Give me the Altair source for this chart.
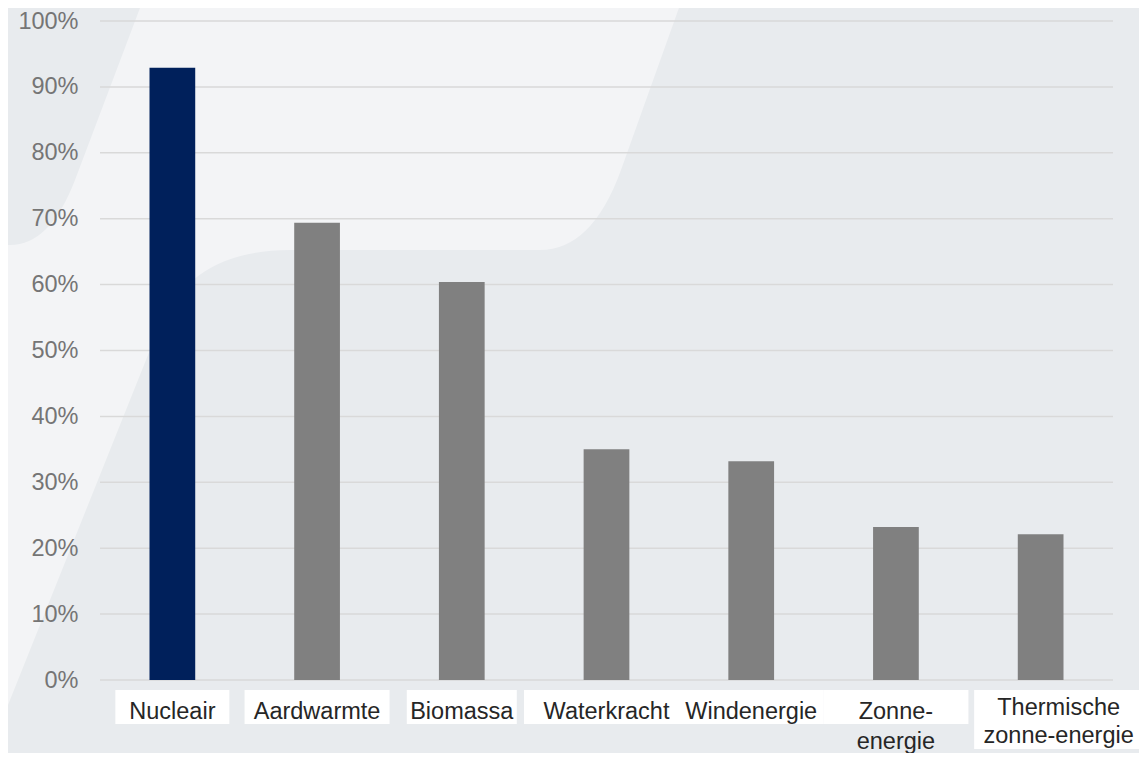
import altair as alt
import pandas as pd

# ---- data ----
categories = ["Nucleair", "Aardwarmte", "Biomassa", "Waterkracht",
              "Windenergie", "Zonne-energie", "Thermische zonne-energie"]
shares = [0.929, 0.694, 0.604, 0.350, 0.332, 0.232, 0.221]
label_text = ["Nucleair", "Aardwarmte", "Biomassa", "Waterkracht",
              "Windenergie", "Zonne-\nenergie", "Thermische\nzonne-energie"]
tick_values = [0.0, 0.1, 0.2, 0.3, 0.4, 0.5, 0.6, 0.7, 0.8, 0.9, 1.0]
highlight = "Nucleair"
two_line_box = "Thermische zonne-energie"

# ---- style ----
W, H = 1013, 659
FONT = "Liberation Sans"
BG_DARK = "#e8ebee"
BG_LIGHT = "#f3f4f6"
NAVY = "#00205b"
GREY = "#808080"
box_width = {"Nucleair": 114, "Aardwarmte": 145, "Biomassa": 110,
             "Waterkracht": 165, "Windenergie": 145, "Zonne-energie": 145,
             "Thermische zonne-energie": 169}

df = pd.DataFrame({"category": categories, "share": shares, "label": label_text})
df["boxw"] = df["category"].map(box_width)
ticks_df = pd.DataFrame({"tick": tick_values})

x_enc = alt.X("category:N", sort=categories,
              scale=alt.Scale(paddingInner=0.684, paddingOuter=0.342), axis=None)
y_scale = alt.Scale(domain=[0, 1], nice=False, zero=True)
y_axis = alt.Axis(values=tick_values, format=".0%", grid=False, domain=False,
                  ticks=False, labelPadding=22, labelFontSize=23.5,
                  labelColor="#757575", labelFont=FONT, title=None, zindex=1)

# decorative light background shape (pixel path relative to plot origin)
shape_path = ("M 43 -30 L 585 -30 L 521 149 Q 492 229 440 229 L 190 229 "
              "Q 90 229 58 309 L -110 729 L -110 224 L -90 224 "
              "Q -50 224 -25 159 L 43 -21 Z")
background = alt.Chart(pd.DataFrame({"k": [0]})).mark_point(
    shape=shape_path, size=4, filled=True, color=BG_LIGHT,
    strokeWidth=0, opacity=1
).encode(x=alt.value(0), y=alt.value(0))

grid = alt.Chart(ticks_df).mark_rule(color="#d9d9d9", strokeWidth=1.5).encode(
    y=alt.Y("tick:Q", scale=y_scale, axis=y_axis)
)

bars = alt.Chart(df).mark_bar().encode(
    x=x_enc,
    y=alt.Y("share:Q", scale=y_scale, axis=y_axis),
    color=alt.condition(alt.datum.category == highlight,
                        alt.value(NAVY), alt.value(GREY)),
)

boxes_a = alt.Chart(df).transform_filter(
    alt.datum.category != two_line_box
).mark_bar(color="white").encode(
    x=x_enc,
    size=alt.Size("boxw:Q", scale=None, legend=None),
    y=alt.value(H + 10), y2=alt.value(H + 44),
)

boxes_b = alt.Chart(df).transform_filter(
    alt.datum.category == two_line_box
).mark_bar(color="white", size=169, xOffset=18).encode(
    x=x_enc, y=alt.value(H + 10), y2=alt.value(H + 69),
)

texts_a = alt.Chart(df).transform_filter(
    alt.datum.category != two_line_box
).mark_text(font=FONT, fontSize=23.5, color="#262626", align="center",
            baseline="alphabetic", lineBreak="\n", lineHeight=30).encode(
    x=x_enc, y=alt.value(H + 39), text="label:N",
)

texts_b = alt.Chart(df).transform_filter(
    alt.datum.category == two_line_box
).mark_text(font=FONT, fontSize=23.5, color="#262626", align="center",
            baseline="alphabetic", lineBreak="\n", lineHeight=28, dx=18).encode(
    x=x_enc, y=alt.value(H + 35), text="label:N",
)

chart = alt.layer(
    background, grid, bars, boxes_a, boxes_b, texts_a, texts_b
).properties(
    width=W, height=H,
    padding={"left": 92, "top": 13, "right": 26, "bottom": 73},
    autosize=alt.AutoSizeParams(type="none"),
    background=BG_DARK,
).configure_view(strokeWidth=0)

chart.save("out.html", embed_options={"renderer": "svg", "actions": False})
